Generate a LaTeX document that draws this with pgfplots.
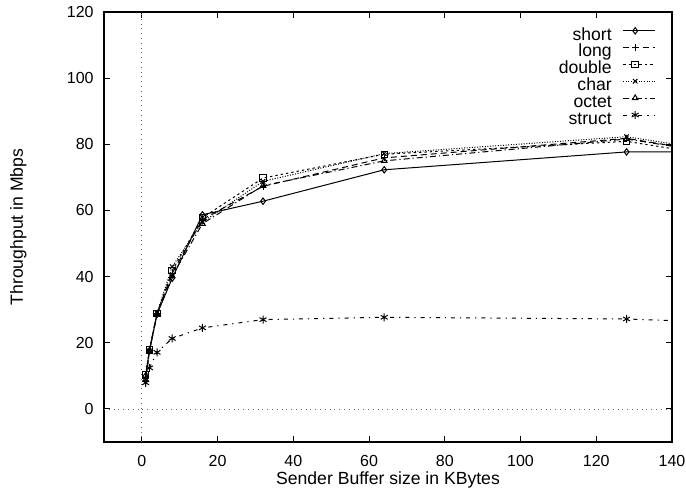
\documentclass[border=0pt]{standalone}
\usepackage{fontspec}
\setmainfont{Liberation Sans}
\usepackage{pgfplots}
\pgfplotsset{compat=1.18}

% buffer size (KB) vs throughput (Mbps); last row lies beyond the x range
\pgfplotstableread{
x    short long double char octet struct
1    10.0  9.5  10.3   9.0  8.8   7.9
2    17.6  17.8 17.8   17.5 17.4  12.4
4    28.6  28.9 28.8   29.0 28.5  17.1
8    39.5  41.0 41.8   43.0 40.2  21.3
16   58.7  57.3 57.8   56.5 56.0  24.5
32   62.8  67.3 69.8   68.8 67.5  27.0
64   72.3  75.9 77.0   77.2 75.0  27.7
128  77.7  81.8 80.9   82.3 81.6  27.2
256  77.6  58.0 57.5   59.5 58.5  21.8
}\tput

\begin{document}
\begin{tikzpicture}
\begin{axis}[
    scale only axis,
    width=284pt, height=215pt,
    xmin=-10, xmax=140, ymin=-10, ymax=120,
    xtick={0,20,...,140}, ytick={0,20,...,120},
    tick align=inside,
    major tick length=3pt,
    axis line style={line width=0.6pt},
    every tick/.style={black, line width=0.5pt},
    font=\fontsize{8.8}{10}\selectfont,
    tick label style={font=\fontsize{8}{9}\selectfont, inner sep=0pt},
    /pgf/number format/assume math mode=true,
    yticklabel style={xshift=-5pt},
    xticklabel style={yshift=-6.5pt},
    xlabel={Sender Buffer size in KBytes},
    ylabel={Throughput in Mbps},
    xlabel style={at={(axis description cs:0.5,-0.098)}, anchor=base},
    ylabel style={at={(axis description cs:-0.151,0.5)}, anchor=center},
    legend cell align=right,
    legend plot pos=right,
    legend style={draw=none, fill=none, inner sep=0pt, at={(rel axis cs:0.972,0.966)}, anchor=north east,
        font=\fontsize{8.8}{10}\selectfont, row sep=0pt, column sep=5.5pt,
        nodes={inner sep=0pt, text height=6.5pt, text depth=1.9pt}},
    legend image code/.code={
        \draw[mark repeat=2, mark phase=2, #1] plot coordinates {(0pt,2.3pt) (6pt,2.3pt) (16pt,2.3pt)};},
    every axis plot/.append style={line width=0.5pt, black, mark size=1.6pt, mark options={solid, fill=white}},
]
\draw[dotted, gray!80!black] (axis cs:0,-10) -- (axis cs:0,120);
\draw[dotted, gray!80!black] (axis cs:-10,0) -- (axis cs:140,0);

\addplot[solid, mark=diamond] table[x=x, y=short] {\tput};
\addlegendentry{short}
\addplot[dash pattern=on 3pt off 2pt, mark=+] table[x=x, y=long] {\tput};
\addlegendentry{long}
\addplot[dash pattern=on 1.2pt off 1.5pt, mark=square] table[x=x, y=double] {\tput};
\addlegendentry{double}
\addplot[dash pattern=on 0.5pt off 0.8pt, mark=x] table[x=x, y=char] {\tput};
\addlegendentry{char}
\addplot[dash pattern=on 3pt off 1.5pt on 0.6pt off 1.5pt, mark=triangle] table[x=x, y=octet] {\tput};
\addlegendentry{octet}
\addplot[dash pattern=on 2pt off 2.5pt on 0.6pt off 2.5pt, mark=asterisk, mark size=2pt] table[x=x, y=struct] {\tput};
\addlegendentry{struct}
\end{axis}
\path (current axis.south west) ++(-52pt,-24.5pt) (current axis.north east) ++(7pt,6pt);
\end{tikzpicture}
\end{document}
